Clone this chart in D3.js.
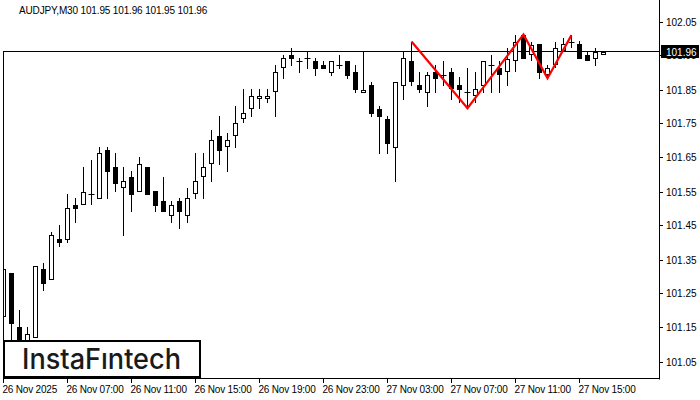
<!DOCTYPE html>
<html><head><meta charset="utf-8">
<script src="https://cdn.jsdelivr.net/npm/d3@7"></script>
<style>html,body{margin:0;padding:0;background:#fff;}svg{display:block;}</style>
</head><body>
<svg id="c" width="700" height="400"></svg>
<script>
const title = "AUDJPY,M30  101.95 101.96 101.95 101.96";
const openV  = [101.180,101.309,101.151,101.080,101.118,101.321,101.289,101.410,101.407,101.510,101.509,101.543,101.529,101.672,101.621,101.559,101.592,101.549,101.621,101.551,101.522,101.479,101.522,101.479,101.542,101.592,101.630,101.713,101.680,101.712,101.762,101.792,101.821,101.821,101.842,101.912,101.951,101.933,101.942,101.933,101.922,101.899,101.922,101.933,101.901,101.841,101.863,101.793,101.763,101.679,101.861,101.934,101.863,101.841,101.901,101.892,101.901,101.863,101.843,101.830,101.861,101.922,101.912,101.901,101.933,102.010,101.951,101.984,101.892,101.922,101.963,101.991,101.984,101.951,101.941,101.950];
const highV  = [101.360,101.309,101.201,101.152,101.331,101.339,101.430,101.451,101.543,101.530,101.621,101.643,101.682,101.682,101.662,101.621,101.610,101.651,101.621,101.551,101.594,101.522,101.531,101.560,101.663,101.663,101.731,101.772,101.721,101.801,101.851,101.851,101.851,101.851,101.922,101.951,101.971,101.942,101.961,101.942,101.933,101.933,101.951,101.933,101.922,101.961,101.871,101.801,101.772,101.871,101.961,101.991,101.901,101.901,101.922,101.934,101.912,101.887,101.912,101.901,101.933,101.951,101.933,101.971,102.010,102.012,101.991,101.984,101.922,101.991,102.001,102.010,101.994,101.961,101.971,101.960];
const lowV   = [101.180,101.090,101.060,101.070,101.118,101.258,101.289,101.388,101.399,101.458,101.509,101.509,101.529,101.528,101.549,101.420,101.491,101.549,101.541,101.491,101.491,101.458,101.441,101.458,101.529,101.529,101.579,101.629,101.608,101.679,101.751,101.770,101.792,101.811,101.770,101.882,101.920,101.899,101.911,101.891,101.911,101.891,101.911,101.882,101.841,101.841,101.770,101.661,101.661,101.579,101.819,101.861,101.841,101.799,101.841,101.861,101.819,101.810,101.795,101.811,101.841,101.841,101.841,101.861,101.901,101.941,101.933,101.882,101.882,101.912,101.963,101.971,101.941,101.933,101.920,101.950];
const closeV = [101.321,101.160,101.100,101.130,101.331,101.279,101.422,101.399,101.501,101.499,101.550,101.543,101.662,101.608,101.571,101.580,101.541,101.630,101.541,101.508,101.491,101.510,101.491,101.530,101.580,101.622,101.701,101.670,101.701,101.751,101.780,101.830,101.830,101.830,101.901,101.942,101.941,101.933,101.942,101.911,101.911,101.933,101.922,101.891,101.849,101.849,101.779,101.770,101.691,101.871,101.942,101.871,101.849,101.892,101.881,101.892,101.851,101.849,101.843,101.851,101.933,101.922,101.892,101.941,101.991,101.941,101.981,101.899,101.912,101.971,101.983,101.991,101.941,101.933,101.961,101.960];
const timeTickIdx = [0,8,16,24,32,40,48,56,64,72];
const timeTickLabels = ["26 Nov 2025","26 Nov 07:00","26 Nov 11:00","26 Nov 15:00","26 Nov 19:00","26 Nov 23:00","27 Nov 03:00","27 Nov 07:00","27 Nov 11:00","27 Nov 15:00"];
const priceTicks = [101.05,101.15,101.25,101.35,101.45,101.55,101.65,101.75,101.85,101.95,102.05];
const currentPrice = 101.96;
const patternIdx = [51,58,65,68,71];
const patternPrice = [101.991,101.795,102.012,101.883,102.010];
const logoText = "InstaFıntech";

const svg = d3.select("#c");
const FONT = "'Liberation Sans', Arial, sans-serif";
const L = 3, R = 659, B = 379;
const x = d3.scaleLinear().domain([0, 75]).range([3.5, 603.5]);
const y = d3.scaleLinear().domain([101.05, 102.05]).range([361.5, 21.5]);
const ry = v => Math.round(y(v));

svg.append("rect").attr("width",700).attr("height",400).attr("fill","#fff");

svg.append("defs").append("clipPath").attr("id","plot")
  .append("rect").attr("x",L).attr("y",0).attr("width",R-L).attr("height",B);

// current price line
svg.append("line").attr("x1",L).attr("x2",R).attr("y1",Math.round(y(currentPrice))-0.5).attr("y2",Math.round(y(currentPrice))-0.5)
  .attr("stroke","#000").attr("stroke-width",1);

const g = svg.append("g").attr("clip-path","url(#plot)");
const bars = d3.range(openV.length).map(i => ({i,o:openV[i],h:highV[i],l:lowV[i],c:closeV[i]}));
bars.forEach(d => {
  const cx = Math.round(x(d.i) - 0.5) + 0.5;
  g.append("line").attr("x1",cx).attr("x2",cx).attr("y1",ry(d.h)).attr("y2",Math.max(ry(d.l), ry(d.h)+1))
    .attr("stroke","#000").attr("stroke-width",1);
  const top = ry(Math.max(d.o,d.c)), bot = ry(Math.min(d.o,d.c));
  if (d.o === d.c) {
    g.append("line").attr("x1",cx-3).attr("x2",cx+3).attr("y1",top+0.5).attr("y2",top+0.5)
      .attr("stroke","#000").attr("stroke-width",1);
  } else if (d.c > d.o) {
    g.append("rect").attr("x",cx-2).attr("y",top+0.5).attr("width",4).attr("height",Math.max(bot-top-1,1))
      .attr("fill","#fff").attr("stroke","#000").attr("stroke-width",1);
  } else {
    g.append("rect").attr("x",cx-2.5).attr("y",top).attr("width",5).attr("height",Math.max(bot-top,1))
      .attr("fill","#000");
  }
});

// pattern zigzag
const zz = d3.line().x((d,k)=>x(patternIdx[k])).y(d=>y(d));
svg.append("path").attr("d",zz(patternPrice)).attr("fill","none").attr("stroke","#ff0000").attr("stroke-width",2.2);

// frame
svg.append("line").attr("x1",L+0.5).attr("x2",L+0.5).attr("y1",51).attr("y2",B).attr("stroke","#000");
svg.append("line").attr("x1",R+0.5).attr("x2",R+0.5).attr("y1",0).attr("y2",B+0.5).attr("stroke","#000");
svg.append("line").attr("x1",L).attr("x2",R+1).attr("y1",B-0.5).attr("y2",B-0.5).attr("stroke","#000");

// price axis
const pa = svg.append("g");
priceTicks.forEach(p => {
  const yy = Math.round(y(p)) + 0.5;
  pa.append("line").attr("x1",R).attr("x2",R+4).attr("y1",yy).attr("y2",yy).attr("stroke","#000");
  pa.append("text").attr("x",666).attr("y",yy+3.5).attr("font-family",FONT).attr("font-size",10)
    .attr("fill","#000").text(p.toFixed(2));
});
// current price label box
const cy = y(currentPrice);
pa.append("rect").attr("x",661).attr("y",Math.round(cy)-7).attr("width",38).attr("height",13).attr("fill","#000");
pa.append("text").attr("x",666).attr("y",Math.round(cy)+3.5).attr("font-family",FONT).attr("font-size",10)
  .attr("fill","#fff").text(currentPrice.toFixed(2));

// time axis
const ta = svg.append("g");
timeTickIdx.forEach((idx,k) => {
  const xx = Math.round(x(idx) - 0.5) + 0.5;
  ta.append("line").attr("x1",xx).attr("x2",xx).attr("y1",B).attr("y2",B+4).attr("stroke","#000");
  ta.append("text").attr("x",xx-1).attr("y",393).attr("font-family",FONT).attr("font-size",10)
    .attr("letter-spacing","-0.2px").attr("fill","#000").text(timeTickLabels[k]);
});

// title
svg.append("text").attr("x",19).attr("y",14).attr("font-family",FONT).attr("font-size",10)
  .attr("letter-spacing","-0.15px").attr("fill","#000").text(title);

// logo
svg.append("rect").attr("x",4).attr("y",341).attr("width",196).attr("height",36)
  .attr("fill","#fff").attr("stroke","#000").attr("stroke-width",2);
svg.append("text").attr("x",22).attr("y",369).attr("font-family","Inter, 'Noto Sans', sans-serif")
  .attr("font-size",28).attr("font-weight",500).attr("fill","#1a1a1a")
  .attr("textLength",159).attr("lengthAdjust","spacingAndGlyphs").text(logoText);
</script>
</body></html>
